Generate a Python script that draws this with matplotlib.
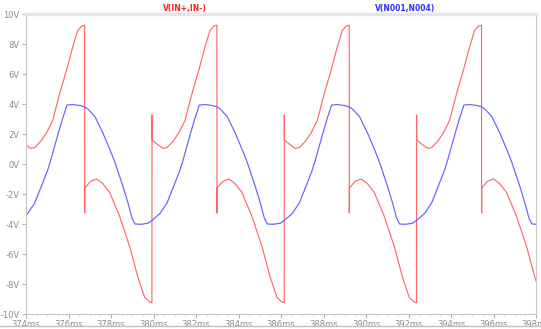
import matplotlib
matplotlib.use('Agg')
import matplotlib.pyplot as plt
from matplotlib.lines import Line2D
from matplotlib.ticker import MultipleLocator, FuncFormatter

# V(IN+,IN-) -- time in ms, value in V
t_in = [
    373.707, 373.938, 374.221, 374.409, 374.691, 374.974, 375.256, 375.585,
    375.915, 376.197, 376.432, 376.621, 376.758, 376.762, 376.766, 377.044,
    377.327, 377.609, 377.938, 378.409, 378.879, 379.256, 379.585, 379.821,
    379.925,
    379.929, 379.933, 380.164, 380.447, 380.635, 380.917, 381.200, 381.482,
    381.811, 382.141, 382.423, 382.658, 382.847, 382.984, 382.988, 382.992,
    383.270, 383.553, 383.835, 384.164, 384.635, 385.105, 385.482, 385.811,
    386.047, 386.151,
    386.155, 386.159, 386.390, 386.673, 386.861, 387.143, 387.426, 387.708,
    388.037, 388.367, 388.649, 388.884, 389.073, 389.210, 389.214, 389.218,
    389.496, 389.779, 390.061, 390.390, 390.861, 391.331, 391.708, 392.037,
    392.273, 392.377,
    392.381, 392.385, 392.616, 392.899, 393.087, 393.369, 393.652, 393.934,
    394.263, 394.593, 394.875, 395.110, 395.299, 395.436, 395.440, 395.444,
    395.722, 396.005, 396.287, 396.616, 397.087, 397.557, 397.934, 398.263,
]
v_in = [
    1.6, 1.33, 1.04, 1.1, 1.5, 2.1, 2.9, 4.7,
    6.3, 7.8, 8.9, 9.2, 9.25, -3.27, -1.6, -1.15,
    -1.0, -1.3, -1.9, -3.5, -5.5, -7.5, -8.9, -9.2,
    -9.25,
    3.27, 1.6, 1.33, 1.04, 1.1, 1.5, 2.1, 2.9,
    4.7, 6.3, 7.8, 8.9, 9.2, 9.25, -3.27, -1.6,
    -1.15, -1.0, -1.3, -1.9, -3.5, -5.5, -7.5, -8.9,
    -9.2, -9.25,
    3.27, 1.6, 1.33, 1.04, 1.1, 1.5, 2.1, 2.9,
    4.7, 6.3, 7.8, 8.9, 9.2, 9.25, -3.27, -1.6,
    -1.15, -1.0, -1.3, -1.9, -3.5, -5.5, -7.5, -8.9,
    -9.2, -9.25,
    3.27, 1.6, 1.33, 1.04, 1.1, 1.5, 2.1, 2.9,
    4.7, 6.3, 7.8, 8.9, 9.2, 9.25, -3.27, -1.6,
    -1.15, -1.0, -1.3, -1.9, -3.5, -5.5, -7.5, -8.9,
]

# V(N001,N004)
t_out = [
    373.750, 374.079, 374.409, 374.691, 375.021, 375.162, 375.350, 375.538,
    375.727,
    375.929, 376.211, 376.541, 376.776, 376.964, 377.247, 377.623, 377.953,
    378.188, 378.564, 378.800, 378.988, 379.129, 379.411, 379.741, 379.976,
    380.305, 380.635, 380.917, 381.247, 381.388, 381.576, 381.764, 381.953,
    382.155, 382.437, 382.767, 383.002, 383.190, 383.473, 383.849, 384.179,
    384.414, 384.790, 385.026, 385.214, 385.355, 385.637, 385.967, 386.202,
    386.531, 386.861, 387.143, 387.473, 387.614, 387.802, 387.990, 388.179,
    388.381, 388.663, 388.993, 389.228, 389.416, 389.699, 390.075, 390.405,
    390.640, 391.016, 391.252, 391.440, 391.581, 391.863, 392.193, 392.428,
    392.757, 393.087, 393.369, 393.699, 393.840, 394.028, 394.216, 394.405,
    394.607, 394.889, 395.219, 395.454, 395.642, 395.925, 396.301, 396.631,
    396.866, 397.242, 397.478, 397.666, 397.807, 398.089,
]
v_out = [
    -3.7, -3.3, -2.6, -1.6, -0.4, 0.25, 1.2, 2.15,
    3.05,
    3.93, 3.96, 3.9, 3.8, 3.6, 3.15, 2.05, 0.95,
    0.1, -1.5, -2.6, -3.6, -4.0, -4.02, -3.95, -3.7,
    -3.3, -2.6, -1.6, -0.4, 0.25, 1.2, 2.15, 3.05,
    3.93, 3.96, 3.9, 3.8, 3.6, 3.15, 2.05, 0.95,
    0.1, -1.5, -2.6, -3.6, -4.0, -4.02, -3.95, -3.7,
    -3.3, -2.6, -1.6, -0.4, 0.25, 1.2, 2.15, 3.05,
    3.93, 3.96, 3.9, 3.8, 3.6, 3.15, 2.05, 0.95,
    0.1, -1.5, -2.6, -3.6, -4.0, -4.02, -3.95, -3.7,
    -3.3, -2.6, -1.6, -0.4, 0.25, 1.2, 2.15, 3.05,
    3.93, 3.96, 3.9, 3.8, 3.6, 3.15, 2.05, 0.95,
    0.1, -1.5, -2.6, -3.6, -4.0, -4.02,
]

W, H = 541, 329
fig = plt.figure(figsize=(W / 100, H / 100), dpi=100)
ax = fig.add_axes([26 / W, 1 - 314 / H, (536 - 26) / W, (314 - 14) / H])

red = '#ff6868'
blue = '#6262ff'
grey = '#a0a0a0'

ax.plot(t_in, v_in, color=red, lw=0.85, solid_joinstyle='round')
ax.plot(t_out, v_out, color=blue, lw=0.85, solid_joinstyle='round')

ax.set_xlim(374, 398)
ax.set_ylim(-10, 10)
ax.xaxis.set_major_locator(MultipleLocator(2))
ax.xaxis.set_minor_locator(MultipleLocator(0.5))
ax.yaxis.set_major_locator(MultipleLocator(2))
ax.xaxis.set_major_formatter(FuncFormatter(lambda x, p: '%dms' % round(x)))
ax.yaxis.set_major_formatter(FuncFormatter(lambda y, p: '%dV' % round(y)))

for s in ax.spines.values():
    s.set_color('#c8c8c8')
ax.spines['top'].set_linewidth(2.5)
ax.spines['top'].set_color('#e6e6e6')
ax.tick_params(axis='both', which='major', direction='out', length=3,
               width=0.6, color=grey, labelcolor='#8c8c8c', labelsize=6,
               pad=1.5)
ax.tick_params(axis='x', which='minor', direction='out', length=1.5,
               width=0.5, color='#c8c8c8')

fig.text(185 / W, 1 - 8 / H, 'V(IN+,IN-)', color='#ff2020', fontsize=5.5,
         ha='center', va='center', fontweight='bold')
fig.text(405 / W, 1 - 8 / H, 'V(N001,N004)', color='#3030ff', fontsize=5.5,
         ha='center', va='center', fontweight='bold')

# window border under the tick labels
fig.add_artist(Line2D([0, 1], [1 - 326 / H, 1 - 326 / H], color='#c0c0c0',
                      lw=1.0, transform=fig.transFigure))

fig.savefig('out.png', dpi=100)
